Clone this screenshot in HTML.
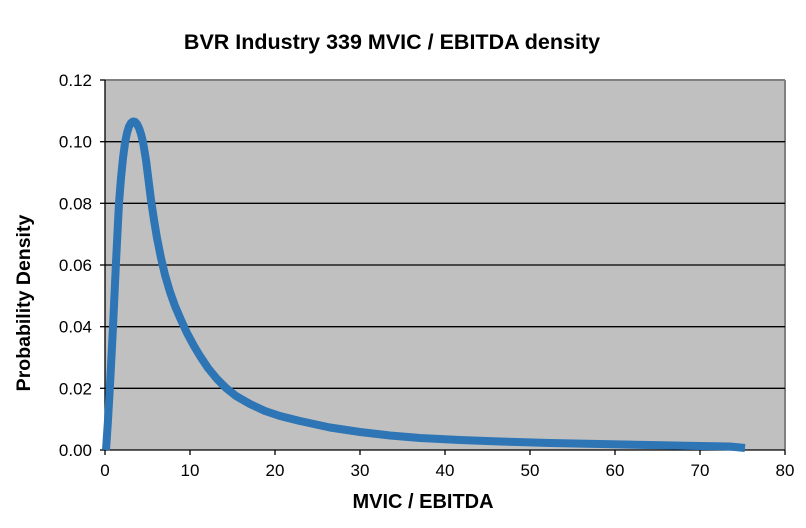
<!DOCTYPE html>
<html><head><style>body{margin:0;background:#fff}</style></head><body>
<svg width="806" height="523" xmlns="http://www.w3.org/2000/svg" font-family="Liberation Sans, Arial, sans-serif">
<rect width="806" height="523" fill="#fff"/>
<text x="392" y="49" font-size="21.5" font-weight="bold" text-anchor="middle">BVR Industry 339 MVIC / EBITDA density</text>
<rect x="105" y="80" width="680" height="370" fill="#c0c0c0"/>
<line x1="105" y1="80" x2="785" y2="80" stroke="#808080" stroke-width="2"/>
<line x1="785" y1="80" x2="785" y2="450" stroke="#808080" stroke-width="2"/>
<g stroke="#000" stroke-width="1.3">
<line x1="105" y1="141.7" x2="785" y2="141.7"/>
<line x1="105" y1="203.3" x2="785" y2="203.3"/>
<line x1="105" y1="265" x2="785" y2="265"/>
<line x1="105" y1="326.7" x2="785" y2="326.7"/>
<line x1="105" y1="388.3" x2="785" y2="388.3"/>
<line x1="105" y1="450" x2="785" y2="450"/>
<line x1="105" y1="80" x2="105" y2="450"/>
<line x1="100" y1="80" x2="105" y2="80"/><line x1="100" y1="141.7" x2="105" y2="141.7"/><line x1="100" y1="203.3" x2="105" y2="203.3"/><line x1="100" y1="265" x2="105" y2="265"/><line x1="100" y1="326.7" x2="105" y2="326.7"/><line x1="100" y1="388.3" x2="105" y2="388.3"/><line x1="100" y1="450" x2="105" y2="450"/>
<line x1="105" y1="450" x2="105" y2="455"/><line x1="190" y1="450" x2="190" y2="455"/><line x1="275" y1="450" x2="275" y2="455"/><line x1="360" y1="450" x2="360" y2="455"/><line x1="445" y1="450" x2="445" y2="455"/><line x1="530" y1="450" x2="530" y2="455"/><line x1="615" y1="450" x2="615" y2="455"/><line x1="700" y1="450" x2="700" y2="455"/><line x1="785" y1="450" x2="785" y2="455"/>
</g>
<g font-size="17" text-anchor="end">
<text x="92" y="86">0.12</text><text x="92" y="147.7">0.10</text><text x="92" y="209.3">0.08</text><text x="92" y="271">0.06</text><text x="92" y="332.7">0.04</text><text x="92" y="394.3">0.02</text><text x="92" y="456">0.00</text>
</g>
<g font-size="17" text-anchor="middle">
<text x="105" y="476">0</text><text x="190" y="476">10</text><text x="275" y="476">20</text><text x="360" y="476">30</text><text x="445" y="476">40</text><text x="530" y="476">50</text><text x="615" y="476">60</text><text x="700" y="476">70</text><text x="785" y="476">80</text>
</g>
<text x="423" y="508" font-size="20" font-weight="bold" text-anchor="middle">MVIC / EBITDA</text>
<text transform="translate(30,303) rotate(-90)" font-size="19.5" font-weight="bold" text-anchor="middle">Probability Density</text>
<polyline fill="none" stroke="#2E75B6" stroke-width="8" stroke-linejoin="round" points="106,450 108,420 110,385 113,327 116,262 119,203 121,178 123,158 125,143 127,133 129,126.5 131,123 133,121.5 135,121.8 137,124 139,128 141,134 143,142 146,160 148,176 151,200 154,220 157,238 161,258 165,275 170,292 175,306 181,320 187,333 194,346 200,356 208,368 217,379 226,388 236,396 250,404 265,411 280,416 300,421 330,427.5 360,432 390,435.5 420,438 460,440 500,441.5 550,443 600,444 650,445 700,446 730,446.5 745,448"/>
</svg>
</body></html>
